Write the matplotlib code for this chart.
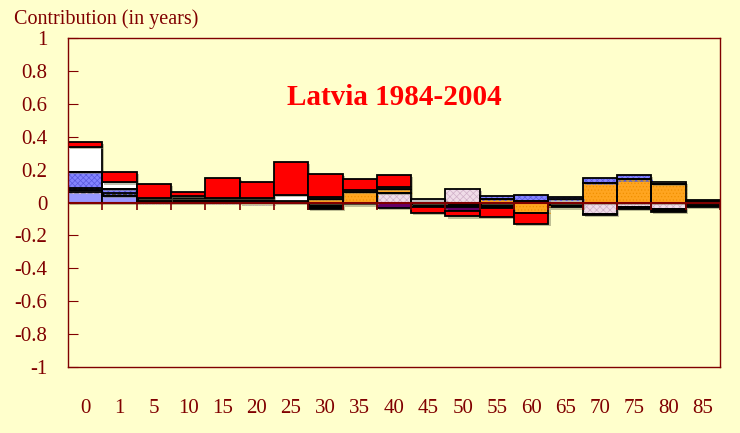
import matplotlib
matplotlib.use('Agg')
import matplotlib.pyplot as plt
import matplotlib.patheffects as pe
import numpy as np

plt.rcParams['font.family'] = ['Liberation Serif', 'DejaVu Serif']
plt.rcParams['hatch.linewidth'] = 0.5

ages = ['0', '1', '5', '10', '15', '20', '25', '30', '35', '40', '45',
        '50', '55', '60', '65', '70', '75', '80', '85']

# contributions (years) by cause, stacking order bottom-up
light_blue = [0.065, 0.04, 0, 0, 0, 0, 0, 0, 0, 0, 0, 0, 0, 0, 0, 0, 0, 0, 0]
pink_hatch = [0.01, 0, 0.01, 0, 0.006, -0.006, 0, 0, 0, 0.06, 0, 0.08, 0, 0.008, 0, -0.07, -0.025, -0.04, -0.012]
black = [0.012, 0.02, 0, 0.025, 0.022, 0.026, 0.01, -0.04, 0, 0, -0.025, -0.03, -0.035, -0.006, -0.03, -0.006, -0.015, -0.015, -0.015]
purple = [0, 0, 0, 0, 0, 0, 0, 0, -0.012, -0.035, 0, -0.02, 0, 0, 0, 0, 0, 0, 0]
orange = [0, 0, 0, 0, 0, 0, 0, 0.02, 0.065, 0.022, 0, 0, 0.02, -0.06, 0, 0.12, 0.14, 0.115, 0.012]
grey = [0, 0, 0.01, 0.005, 0, 0, 0, 0.016, 0, 0.015, 0.02, 0, 0, 0, 0.02, 0, 0, 0, 0]
blue_hatch = [0.10, 0.02, 0, 0, 0, 0, 0, 0, 0, 0, 0, 0, 0.017, 0.037, 0.015, 0.03, 0.028, 0, 0]
white = [0.15, 0.042, 0.005, 0.01, 0, 0, 0.035, 0, 0.01, 0, 0, 0, 0, 0, 0, 0, 0, 0.012, 0.005]
red = [0.032, 0.062, 0.085, 0.026, 0.12, 0.10, 0.20, 0.135, 0.067, 0.07, -0.04, -0.035, -0.055, -0.065, 0, 0, 0, 0, 0]

yticks = [1, 0.8, 0.6, 0.4, 0.2, 0, -0.2, -0.4, -0.6, -0.8, -1]
ytick_labels = ['1', '0.8', '0.6', '0.4', '0.2', '0', '-0.2', '-0.4', '-0.6', '-0.8', '-1']

series = [
    (light_blue, '#9999FF', None, None),
    (pink_hatch, '#F0DCE8', 'xxxxx', '#D0B0C8'),
    (black, '#000000', None, None),
    (purple, '#660066', None, None),
    (orange, '#FFA520', '.....', '#F09000'),
    (grey, '#C0C0C0', None, None),
    (blue_hatch, '#8484FF', 'xxxxxx', '#5a5ae0'),
    (white, '#FFFFFF', None, None),
    (red, '#FF0000', None, None),
]

DARKRED = '#800000'
BG = '#FFFFCC'

fig = plt.figure(figsize=(7.4, 4.33), dpi=100)
fig.patch.set_facecolor(BG)
ax = fig.add_axes([68 / 740, 1 - 367 / 433, (720 - 68) / 740, (367 - 38) / 433])
ax.set_facecolor(BG)

shadow = [pe.SimplePatchShadow(offset=(1.5, -1.5), shadow_rgbFace='#808060', alpha=0.5), pe.Normal()]

n = len(ages)
x = np.arange(n)
pos_b = np.zeros(n)
neg_b = np.zeros(n)
for vals, fc, hatch, hc in series:
    v = np.array(vals, dtype=float)
    bottom = np.where(v >= 0, pos_b, neg_b)
    m = v != 0
    if hatch:
        bars = ax.bar(x[m], v[m], width=1, bottom=bottom[m], facecolor=fc,
                      edgecolor=hc, hatch=hatch, linewidth=0, zorder=2)
        for b in bars:
            b.set_path_effects(shadow)
        ax.bar(x[m], v[m], width=1, bottom=bottom[m], facecolor='none',
               edgecolor='black', linewidth=1.3, zorder=2.1)
    else:
        bars = ax.bar(x[m], v[m], width=1, bottom=bottom[m], facecolor=fc,
                      edgecolor='black', linewidth=1.3, zorder=2)
        for b in bars:
            b.set_path_effects(shadow)
    pos_b += np.where(v > 0, v, 0)
    neg_b += np.where(v < 0, v, 0)

# zero axis with category boundary tick marks
ax.axhline(0, color=DARKRED, lw=1.5, zorder=3)
ax.vlines(np.arange(n + 1) - 0.5, -0.045, 0, color=DARKRED, lw=1.2, zorder=3)

ax.set_xlim(-0.5, n - 0.5)
ax.set_ylim(-1, 1)
ax.set_yticks(yticks)
ax.set_yticklabels(ytick_labels)
ax.set_xticks(x)
ax.set_xticklabels(ages)
ax.tick_params(axis='y', direction='in', length=7, color=DARKRED,
               labelcolor=DARKRED, labelsize=15, pad=15)
ax.tick_params(axis='x', length=0, labelcolor=DARKRED, labelsize=15, pad=23)
for s in ax.spines.values():
    s.set_color(DARKRED)
    s.set_linewidth(1.0)

ax.text(0.500, 0.820, 'Latvia 1984-2004', transform=ax.transAxes,
        ha='center', va='center', fontsize=21, fontweight='bold', color='#FF0000')
fig.text(14 / 740, 1 - 19 / 433, 'Contribution (in years)', ha='left', va='center',
         fontsize=14.5, color=DARKRED)

fig.savefig('out.png', dpi=100, facecolor=BG)
